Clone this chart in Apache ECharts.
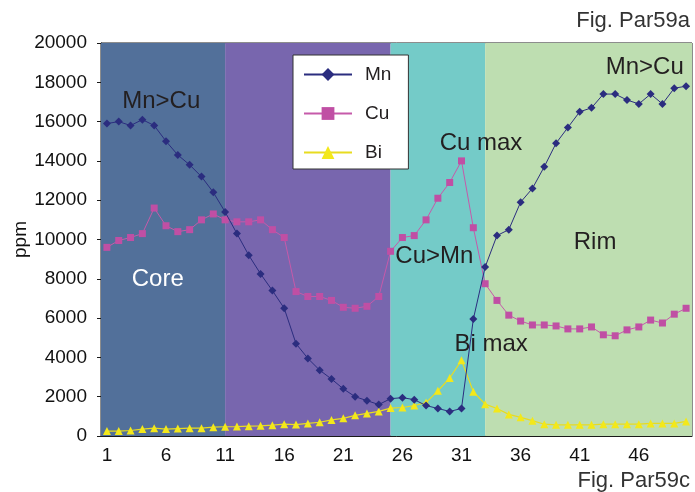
<!DOCTYPE html>
<html>
<head>
<meta charset="utf-8">
<style>
  html, body { margin: 0; padding: 0; background: #ffffff; }
  #chart { width: 695px; height: 492px; }
</style>
<script src="https://cdn.jsdelivr.net/npm/echarts@6/dist/echarts.min.js"></script>
</head>
<body>
<div id="chart"></div>
<script>
// Profile positions 1..50 along the traverse
const positions = Array.from({ length: 50 }, (_, i) => String(i + 1));

// Concentrations in ppm
const mn = [15900, 16000, 15800, 16100, 15800, 15000, 14300, 13800, 13200, 12400,
            11400, 10300, 9200, 8250, 7400, 6500, 4700, 3950, 3350, 2900,
            2400, 2000, 1800, 1600, 1900, 1950, 1850, 1550, 1400, 1250,
            1400, 5950, 8600, 10200, 10500, 11900, 12600, 13700, 14900, 15700,
            16500, 16700, 17400, 17400, 17100, 16900, 17400, 16900, 17700, 17800];

const cu = [9600, 9950, 10100, 10300, 11600, 10700, 10400, 10500, 11000, 11300,
            11000, 10900, 10900, 11000, 10500, 10100, 7350, 7100, 7100, 6900,
            6550, 6500, 6600, 7100, 9400, 10100, 10200, 11000, 12100, 12900,
            14000, 10600, 7750, 6900, 6150, 5850, 5650, 5650, 5600, 5450,
            5450, 5550, 5150, 5100, 5400, 5550, 5900, 5750, 6200, 6500];

const bi = [250, 250, 280, 350, 400, 350, 380, 400, 400, 450,
            470, 480, 500, 520, 550, 600, 580, 640, 700, 820,
            900, 1050, 1150, 1250, 1420, 1450, 1550, 1700, 2300, 2950,
            3850, 2250, 1620, 1400, 1100, 950, 780, 600, 570, 570,
            570, 570, 600, 600, 600, 600, 640, 640, 640, 740];

// Zones along the profile (boundaries in position units)
const zoneStarts = [0.5, 11, 25, 33];
const zoneEnds   = [11, 25, 33, 50.5];
const zoneColors = ['#52709a', '#7866ae', '#74cbc8', '#bedeb1'];

// Annotations: [position, ppm, text]
const notes = [
  [5.6, 17050, 'Mn>Cu'],
  [5.3, 7950, 'Core'],
  [32.65, 14870, 'Cu max'],
  [28.7, 9150, 'Cu>Mn'],
  [33.5, 4670, 'Bi max'],
  [42.3, 9870, 'Rim'],
  [46.5, 18750, 'Mn>Cu']
];

const yTicks = { min: 0, max: 20000, step: 2000 };

const FONT = '"Liberation Sans", Arial, sans-serif';
const TXT = '#231f20';

const chart = echarts.init(document.getElementById('chart'), null, { renderer: 'canvas' });

const zoneAreas = zoneStarts.map((s, i) => [
  { xAxis: s, itemStyle: { color: zoneColors[i], opacity: 1 } },
  { xAxis: zoneEnds[i] }
]);

const noteMarks = notes.map(n => ({
  coord: [n[0], n[1]],
  value: n[2],
  label: {
    color: n[2] === 'Core' ? '#ffffff' : TXT
  }
}));

chart.setOption({
  animation: false,
  backgroundColor: '#ffffff',
  textStyle: { fontFamily: FONT },
  grid: {
    left: 101, right: 3, top: 43, bottom: 56,
    containLabel: false,
    outerBoundsMode: 'none',
    show: true, borderColor: '#1a1a1a', borderWidth: 1,
    backgroundColor: 'transparent'
  },
  graphic: [
    {
      type: 'text', right: 5, top: 10,
      style: { text: 'Fig. Par59a', font: '22px ' + FONT, fill: '#333333' }
    },
    {
      type: 'text', right: 5, bottom: 0,
      style: { text: 'Fig. Par59c', font: '22px ' + FONT, fill: '#333333' }
    }
  ],
  legend: {
    data: ['Mn', 'Cu', 'Bi'],
    orient: 'vertical',
    left: 293, top: 55,
    padding: [10, 17, 7, 10],
    itemWidth: 48, itemHeight: 16, itemGap: 20,
    backgroundColor: '#ffffff',
    borderColor: '#333333', borderWidth: 1,
    textStyle: { fontSize: 19, color: TXT, fontFamily: FONT, padding: [0, 0, 0, 8] }
  },
  xAxis: [
    {
      type: 'category',
      data: positions,
      boundaryGap: true,
      axisLine: { lineStyle: { color: '#1a1a1a', width: 1 } },
      axisTick: { interval: 0, length: 4, lineStyle: { color: '#1a1a1a' } },
      axisLabel: { interval: 4, fontSize: 19, color: '#111111', margin: 10, fontFamily: FONT },
      splitLine: { show: false }
    },
    {
      type: 'value',
      min: 0.5, max: 50.5,
      show: false,
      splitLine: { show: false }
    }
  ],
  yAxis: {
    type: 'value',
    min: yTicks.min, max: yTicks.max, interval: yTicks.step,
    name: 'ppm',
    nameLocation: 'middle',
    nameGap: 71,
    nameMoveOverlap: false,
    nameTextStyle: { fontSize: 19, color: '#111111', fontFamily: FONT },
    axisLine: { show: true, lineStyle: { color: '#1a1a1a', width: 1 } },
    axisTick: { show: true, length: 4, lineStyle: { color: '#1a1a1a' } },
    axisLabel: {
      fontSize: 19, color: '#111111', margin: 14, fontFamily: FONT,
      formatter: v => String(v)
    },
    splitLine: { show: false }
  },
  series: [
    {
      name: 'zones',
      type: 'line',
      xAxisIndex: 1,
      data: [],
      z: 1,
      silent: true,
      markArea: { silent: true, data: zoneAreas },
      markPoint: {
        silent: true,
        symbol: 'circle',
        symbolSize: 0,
        label: {
          show: true,
          position: 'inside',
          formatter: p => p.value,
          fontSize: 24,
          fontFamily: FONT
        },
        data: noteMarks
      }
    },
    {
      name: 'Mn',
      type: 'line',
      data: mn,
      z: 4,
      symbol: 'diamond',
      symbolSize: 8,
      showAllSymbol: true,
      color: '#2b2d7f',
      lineStyle: { width: 1, color: '#2b2d7f' },
      itemStyle: { color: '#2b2d7f' }
    },
    {
      name: 'Cu',
      type: 'line',
      data: cu,
      z: 3,
      symbol: 'rect',
      symbolSize: 7,
      showAllSymbol: true,
      color: '#c04fa4',
      lineStyle: { width: 1, color: '#c65aaa' },
      itemStyle: { color: '#c04fa4' }
    },
    {
      name: 'Bi',
      type: 'line',
      data: bi,
      z: 3,
      symbol: 'triangle',
      symbolSize: 8,
      showAllSymbol: true,
      color: '#f3e81a',
      lineStyle: { width: 1.2, color: '#e8dc20' },
      itemStyle: { color: '#f3e81a' }
    }
  ]
});
</script>
</body>
</html>
